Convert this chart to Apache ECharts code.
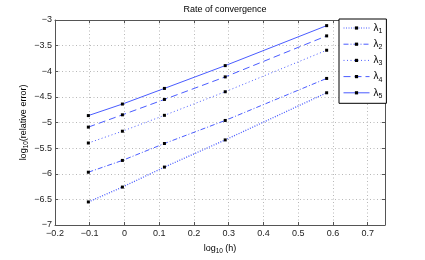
<!DOCTYPE html>
<html><head><meta charset="utf-8">
<script src="https://cdn.jsdelivr.net/npm/echarts@6/dist/echarts.min.js"></script>
<style>html,body{margin:0;padding:0;background:#fff}#c{width:425px;height:260px}</style>
</head><body><div id="c"></div>
<script>
const xLogH = [-0.104, -0.006, 0.115, 0.290, 0.582];
const seriesNames = ['λ1', 'λ2', 'λ3', 'λ4', 'λ5'];
const lambda1 = [-6.55, -6.26, -5.87, -5.34, -4.42];
const lambda2 = [-5.97, -5.74, -5.41, -4.96, -4.14];
const lambda3 = [-5.40, -5.17, -4.86, -4.40, -3.59];
const lambda4 = [-5.09, -4.85, -4.55, -4.11, -3.31];
const lambda5 = [-4.865, -4.64, -4.335, -3.89, -3.11];
const titleText = 'Rate of convergence';

const allValues = [lambda1, lambda2, lambda3, lambda4, lambda5];
const lineTypes = [[1, 1.5], [5, 2, 1, 2], [1, 2.5], [7, 4], 'solid'];
const lineWidths = [1.3, 1, 1, 1, 1];
const FONT = 'Liberation Sans';
const blue = '#4a5cff';
const fmt = v => {
  const r = Math.round(v * 100) / 100;
  return String(r).replace('-', '\u2212');
};
const chart = echarts.init(document.getElementById('c'), null, {renderer: 'canvas'});
const series = seriesNames.map((n, i) => ({
  name: n,
  type: 'line',
  data: xLogH.map((x, j) => [x, allValues[i][j]]),
  symbol: 'rect',
  symbolSize: 3,
  showSymbol: true,
  itemStyle: {color: '#000'},
  lineStyle: {color: blue, width: lineWidths[i], type: lineTypes[i]},
  emphasis: {disabled: true},
  animation: false,
  z: 3
}));
const subRich = {
  a: {fontFamily: FONT, fontSize: 9, color: '#000', lineHeight: 12},
  s: {fontFamily: FONT, fontSize: 6.5, color: '#000', lineHeight: 8, verticalAlign: 'bottom'}
};
chart.setOption({
  animation: false,
  backgroundColor: '#fff',
  title: {
    text: titleText, left: 220, top: 0, textAlign: 'center',
    textStyle: {fontFamily: FONT, fontSize: 9, fontWeight: 'normal', color: '#000'}
  },
  grid: {left: 55, top: 20, right: 40, bottom: 29},
  legend: {
    orient: 'vertical', left: 339, top: 19, width: 46,
    padding: [4, 4, 4, 4],
    itemWidth: 26, itemHeight: 4, itemGap: 4.7,
    backgroundColor: '#fff', borderColor: '#000', borderWidth: 1,
    lineStyle: {width: 1},
    data: seriesNames,
    formatter: n => '{a|λ}{s|' + n.slice(1) + '}',
    textStyle: {
      fontFamily: FONT, fontSize: 9, color: '#000', padding: [0, 0, 0, -1],
      rich: {
        a: {fontFamily: FONT, fontSize: 10, color: '#000', lineHeight: 13},
        s: {fontFamily: FONT, fontSize: 7, color: '#000', lineHeight: 9, verticalAlign: 'bottom'}
      }
    }
  },
  xAxis: [{
    type: 'value', min: -0.2, max: 0.75, interval: 0.1,
    name: '{a|log}{s|10}{a| (h)}', nameLocation: 'middle', nameGap: 18,
    nameMoveOverlap: false,
    nameTextStyle: {fontFamily: FONT, fontSize: 9, color: '#000', rich: subRich},
    axisLine: {show: true, onZero: false, lineStyle: {color: '#555', width: 1}},
    axisTick: {show: true, inside: true, length: 3, lineStyle: {color: '#555'}},
    axisLabel: {fontFamily: FONT, fontSize: 9, color: '#222', margin: 4, showMaxLabel: false, formatter: fmt},
    splitLine: {show: true, lineStyle: {color: '#b8b8b8', type: [1, 2.5], width: 1}}
  }, {
    type: 'value', position: 'top', min: -0.2, max: 0.75, interval: 0.1,
    axisLine: {show: true, onZero: false, lineStyle: {color: '#555', width: 1}},
    axisTick: {show: true, inside: true, length: 3, lineStyle: {color: '#555'}},
    axisLabel: {show: false}, splitLine: {show: false}
  }],
  yAxis: [{
    type: 'value', min: -7, max: -3, interval: 0.5,
    name: '{a|log}{s|10}{a|(relative error)}', nameLocation: 'middle', nameGap: 25,
    nameMoveOverlap: false,
    nameTextStyle: {fontFamily: FONT, fontSize: 9, color: '#000', rich: subRich},
    axisLine: {show: true, onZero: false, lineStyle: {color: '#555', width: 1}},
    axisTick: {show: true, inside: true, length: 3, lineStyle: {color: '#555'}},
    axisLabel: {fontFamily: FONT, fontSize: 9, color: '#222', margin: 3, formatter: fmt},
    splitLine: {show: true, lineStyle: {color: '#b8b8b8', type: [1, 2.5], width: 1}}
  }, {
    type: 'value', position: 'right', min: -7, max: -3, interval: 0.5,
    axisLine: {show: true, onZero: false, lineStyle: {color: '#555', width: 1}},
    axisTick: {show: true, inside: true, length: 3, lineStyle: {color: '#555'}},
    axisLabel: {show: false}, splitLine: {show: false}
  }],
  series: series
});
</script></body></html>
